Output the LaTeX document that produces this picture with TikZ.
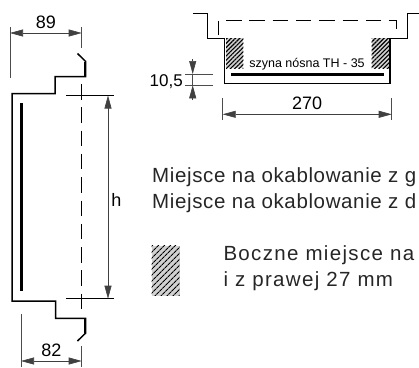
\documentclass[tikz,border=0pt]{standalone}
\usepackage{fontspec}
\setmainfont{Liberation Sans}
\newfontfamily\lineone[LetterSpace=3.1]{Liberation Sans}
\newfontfamily\linetwo[LetterSpace=6.5]{Liberation Sans}
\usetikzlibrary{arrows.meta,patterns.meta}
\tikzstyle{wall}=[line width=1.5pt, line join=miter]
\tikzstyle{thin line}=[line width=0.6pt, draw=black!70]
\tikzstyle{dim}=[line width=0.6pt, draw=black!75, {Triangle[length=13pt,width=7pt]}-{Triangle[length=13pt,width=7pt]}]
\tikzstyle{tip}=[line width=0.6pt, draw=black!75, -{Triangle[length=13pt,width=7pt]}]
\tikzstyle{dash line}=[line width=1pt, dash pattern=on 15.5pt off 7.8pt]
\tikzstyle{hatch}=[fill=black!18, postaction={pattern={Lines[angle=45,distance=3pt,line width=1.2pt]}}]
\tikzstyle{legend hatch}=[fill=black!18, postaction={pattern={Lines[angle=45,distance=4pt,line width=1.1pt]}}]
\tikzstyle{size label}=[inner sep=0pt, font=\fontsize{18}{20}\selectfont]
\tikzstyle{body text}=[inner sep=0pt, anchor=base west, text=black!85]

\begin{document}
\begin{tikzpicture}[x=1pt, y=-1pt]
\useasboundingbox (0,0) rectangle (419,367);

% side view
\draw[wall] (77.5,53.5) -- (85.7,61.5) -- (85.7,76.5) -- (55,76.5) -- (55,93.5) -- (12,93.5)
       -- (12,301) -- (55.5,301) -- (55.5,318.3) -- (85.7,318.3) -- (85.7,333) -- (77.5,341);
\draw[line width=2.6pt] (85,62) -- (85,76);
\draw[line width=2.6pt] (85,319) -- (85,333);
\draw[line width=3pt] (21.5,103) -- (21.5,290.7);
\draw[dash line] (81.7,84) -- (81.7,309);

\coordinate (a1) at (10,33);
\coordinate (a2) at (81.7,33);
\draw[thin line] (10,27) -- (10,78);
\draw[thin line] (81.7,27) -- (81.7,48);
\draw[dim] (a1) -- node[size label, above=0pt, yshift=3.7pt] (l89) {89} (a2);

\coordinate (b1) at (21,361);
\coordinate (b2) at (81.7,361);
\draw[thin line] (21,314) -- (21,367);
\draw[thin line] (81.7,346) -- (81.7,367);
\draw[dim] (b1) -- node[size label, above=0pt, yshift=3.7pt] (l82) {82} (b2);

\coordinate (h1) at (108,95.5);
\coordinate (h2) at (108,298.7);
\draw[line width=0.6pt] (66,95.5) -- (114,95.5);
\draw[line width=0.6pt] (66,298.7) -- (114,298.7);
\draw[dim] (h1) -- (h2);
\node[size label] (lh) at (116.3,199.5) {h};

% top view
\draw[wall, line width=1.3pt] (193.3,13.3) -- (207.7,13.3) -- (207.7,38.3) -- (224.3,38.3) -- (224.3,83.3)
       -- (390,83.3) -- (390,38.3) -- (407.7,38.3) -- (407.7,13.3) -- (419,13.3);
\draw[line width=1pt] (218.7,35) -- (218.7,20.7);
\draw[dash line] (226,20.7) -- (396,20.7) -- (396,29.5);
\fill[hatch] (226,38.3) rectangle (243.3,68.3);
\fill[hatch] (371.7,38.3) rectangle (389,68.3);
\draw[line width=3pt] (231,74.3) -- (384.3,74.3);
\node[inner sep=0pt] (rail) at (307,64) {\fontsize{12.5}{14}\selectfont szyna nósna TH - 35};

\coordinate (c1) at (192.7,59.3);
\coordinate (c2) at (192.7,74);
\coordinate (c3) at (192.7,100);
\coordinate (c4) at (192.7,85.3);
\draw[thin line] (185,74) -- (212.7,74);
\draw[thin line] (185,85.3) -- (212.7,85.3);
\draw[thin line] (c2) -- (c4);
\draw[tip] (c1) -- (c2);
\draw[tip] (c3) -- (c4);
\node[size label, anchor=base east, font=\fontsize{17}{19}\selectfont] (l105) at (183,86) {10,5};

\coordinate (d1) at (222.7,114.3);
\coordinate (d2) at (391.7,114.3);
\draw[thin line] (222.7,98) -- (222.7,120);
\draw[thin line] (391.7,98) -- (391.7,120);
\draw[dim] (d1) -- node[size label, above=0pt, yshift=4.3pt] (l270) {270} (d2);

% texts
\node[body text, font=\fontsize{20.5}{22}\lineone] (t1) at (152,182) {Miejsce na okablowanie z g};
\node[body text, font=\fontsize{20.5}{22}\lineone] (t2) at (152,208) {Miejsce na okablowanie z d};
\fill[legend hatch] (151.7,245.7) rectangle (179.7,295.7);
\node[body text, font=\fontsize{20.5}{22}\linetwo] (t3) at (223.3,260.7) {Boczne miejsce na};
\node[body text, font=\fontsize{20.5}{22}\linetwo] (t4) at (223.3,286.7) {i z prawej 27 mm};
\end{tikzpicture}
\end{document}
